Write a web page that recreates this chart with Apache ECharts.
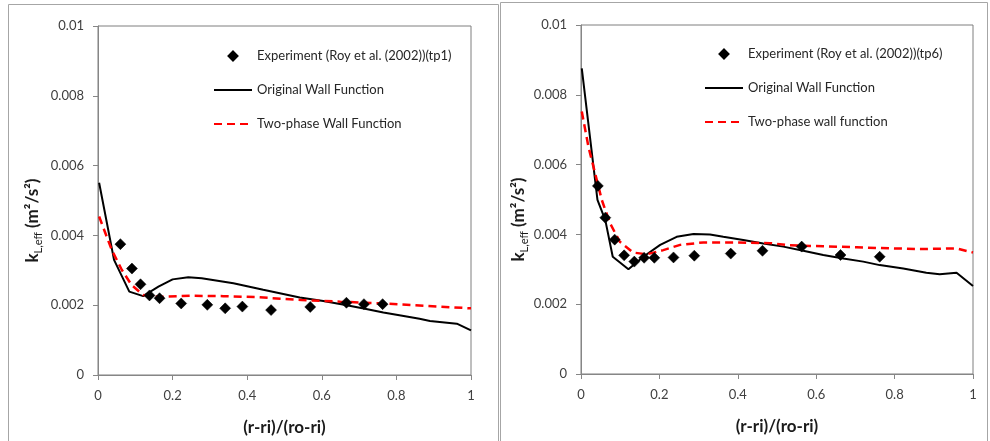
<!DOCTYPE html>
<html>
<head>
<meta charset="utf-8">
<script src="https://cdn.jsdelivr.net/npm/echarts@6/dist/echarts.min.js"></script>
<style>
html,body{margin:0;padding:0;background:#fff;}
#chart{width:990px;height:441px;}
</style>
</head>
<body>
<div id="chart"></div>
<script>
// ---------- Data ----------
const xTicks = [0, 0.2, 0.4, 0.6, 0.8, 1];
const yTicks = [0, 0.002, 0.004, 0.006, 0.008, 0.01];

// Left panel (tp1)
const leftExpX = [0.060, 0.091, 0.114, 0.138, 0.165, 0.223, 0.293, 0.341, 0.387, 0.464, 0.569, 0.666, 0.713, 0.763];
const leftExpY = [0.00375, 0.00305, 0.00260, 0.00228, 0.00220, 0.00205, 0.00201, 0.00191, 0.00196, 0.00186, 0.00195, 0.00207, 0.00203, 0.00203];
const leftOrigX = [0.003, 0.043, 0.084, 0.121, 0.162, 0.200, 0.242, 0.278, 0.363, 0.443, 0.541, 0.604, 0.667, 0.719, 0.765, 0.808, 0.862, 0.890, 0.962, 1.0];
const leftOrigY = [0.00551, 0.00330, 0.00239, 0.00226, 0.00253, 0.00274, 0.00280, 0.00277, 0.00263, 0.00244, 0.00222, 0.00212, 0.00200, 0.00189, 0.00179, 0.00171, 0.00161, 0.00155, 0.00147, 0.00128];
const leftTwoX = [0.003, 0.037, 0.064, 0.090, 0.121, 0.166, 0.247, 0.336, 0.425, 0.545, 0.650, 0.765, 0.880, 1.0];
const leftTwoY = [0.00454, 0.00358, 0.00301, 0.00258, 0.00229, 0.00224, 0.00227, 0.00226, 0.00223, 0.00215, 0.00210, 0.00205, 0.00198, 0.00191];

// Right panel (tp6)
const rightExpX = [0.043, 0.062, 0.086, 0.110, 0.136, 0.161, 0.187, 0.236, 0.289, 0.382, 0.463, 0.563, 0.662, 0.762];
const rightExpY = [0.00539, 0.00448, 0.00385, 0.00340, 0.00322, 0.00333, 0.00333, 0.00334, 0.00339, 0.00345, 0.00353, 0.00365, 0.00341, 0.00336];
const rightOrigX = [0.002, 0.042, 0.062, 0.081, 0.121, 0.159, 0.202, 0.244, 0.287, 0.329, 0.363, 0.414, 0.465, 0.516, 0.567, 0.618, 0.669, 0.720, 0.762, 0.822, 0.881, 0.915, 0.958, 1.0];
const rightOrigY = [0.00876, 0.00499, 0.00441, 0.00336, 0.00300, 0.00336, 0.00370, 0.00393, 0.00401, 0.00400, 0.00393, 0.00384, 0.00374, 0.00365, 0.00353, 0.00341, 0.00331, 0.00322, 0.00312, 0.00302, 0.00290, 0.00286, 0.00290, 0.00252];
const rightTwoX = [0.002, 0.019, 0.036, 0.053, 0.074, 0.099, 0.133, 0.168, 0.210, 0.253, 0.312, 0.397, 0.482, 0.533, 0.618, 0.703, 0.788, 0.873, 0.958, 1.0];
const rightTwoY = [0.00752, 0.00651, 0.00575, 0.00499, 0.00432, 0.00379, 0.00348, 0.00343, 0.00355, 0.00370, 0.00377, 0.00377, 0.00375, 0.00369, 0.00366, 0.00363, 0.00360, 0.00358, 0.00360, 0.00348];

const namesLeft = ['Experiment (Roy et al. (2002))(tp1)', 'Original Wall Function', 'Two-phase Wall Function'];
const namesRight = ['Experiment (Roy et al. (2002))(tp6)', 'Original Wall Function', 'Two-phase wall function'];
const xTitle = '(r-ri)/(ro-ri)';

// ---------- Build ----------
const zip = (xs, ys) => xs.map((x, i) => [x, ys[i]]);
const FONT = 'Lato, "Open Sans", sans-serif';
const DIAMOND_ICON = 'path://M19,0L23.5,4.5L19,9L14.5,4.5Z M0,0 M38,9';

function xAxisCfg(gi) {
  return {
    type: 'value', gridIndex: gi, min: 0, max: 1, interval: 0.2,
    axisLine: { show: true, lineStyle: { color: '#868686', width: 1 } },
    axisTick: { show: true, inside: false, length: 5, lineStyle: { color: '#868686' } },
    axisLabel: { margin: 14, fontSize: 13, color: '#404040', fontFamily: FONT,
      formatter: v => String(+v.toFixed(1)) },
    splitLine: { show: false },
    name: xTitle, nameLocation: 'middle', nameGap: 44,
    nameTextStyle: { fontSize: 17, fontWeight: 'bold', color: '#1a1a1a', fontFamily: FONT }
  };
}
function yAxisCfg(gi, gap) {
  return {
    type: 'value', gridIndex: gi, min: 0, max: 0.01, interval: 0.002,
    axisLine: { show: true, lineStyle: { color: '#868686', width: 1 } },
    axisTick: { show: true, inside: false, length: 5, lineStyle: { color: '#868686' } },
    axisLabel: { margin: 14, fontSize: 13, color: '#404040', fontFamily: FONT,
      formatter: v => v === 0 ? '0' : String(+v.toFixed(3)) },
    splitLine: { show: false },
    name: '{a|k}{b|L,eff}{a| (m²/s²)}', nameLocation: 'middle', nameGap: gap, nameRotate: 90,
    nameTextStyle: {
      color: '#1a1a1a', fontFamily: FONT, padding: [0, 40, 0, 0],
      rich: {
        a: { fontSize: 17, fontWeight: 'bold', lineHeight: 22, fontFamily: FONT, color: '#1a1a1a', verticalAlign: 'middle' },
        b: { fontSize: 11, fontWeight: 'normal', lineHeight: 10, fontFamily: FONT, color: '#1a1a1a', verticalAlign: 'bottom' }
      }
    }
  };
}
function legendCfg(left, top, names) {
  return {
    orient: 'vertical', left: left, top: top,
    itemWidth: 38, itemHeight: 9, itemGap: 20,
    textStyle: { fontSize: 13, color: '#262626', fontFamily: FONT, lineHeight: 14 },
    data: [
      { name: names[0], icon: DIAMOND_ICON },
      { name: names[1] },
      { name: names[2] }
    ],
    selectedMode: false
  };
}
function seriesSet(gi, names, ex, ey, ox, oy, tx, ty) {
  return [
    { name: names[0], type: 'scatter', xAxisIndex: gi, yAxisIndex: gi, data: zip(ex, ey),
      symbol: 'diamond', symbolSize: 11, itemStyle: { color: '#000000', borderColor: '#000000', borderWidth: 0.5, opacity: 1 }, z: 5 },
    { name: names[1], type: 'line', xAxisIndex: gi, yAxisIndex: gi, data: zip(ox, oy),
      symbol: 'none', smooth: false, lineStyle: { color: '#000000', width: 2 },
      itemStyle: { color: 'rgba(0,0,0,0)', borderWidth: 0 }, z: 3 },
    { name: names[2], type: 'line', xAxisIndex: gi, yAxisIndex: gi, data: zip(tx, ty),
      symbol: 'none', smooth: false, lineStyle: { color: '#ff0000', width: 2.5, type: [8, 5] },
      itemStyle: { color: 'rgba(0,0,0,0)', borderWidth: 0 }, z: 4 }
  ];
}

const option = {
  animation: false,
  backgroundColor: '#ffffff',
  graphic: [
    { type: 'rect', shape: { x: 8.5, y: 4.5, width: 490, height: 460 }, style: { fill: 'none', stroke: '#a6a6a6', lineWidth: 1 }, z: -1 },
    { type: 'rect', shape: { x: 500.5, y: 2.5, width: 487, height: 460 }, style: { fill: 'none', stroke: '#a6a6a6', lineWidth: 1 }, z: -1 }
  ],
  grid: [
    { left: 98, top: 26, width: 373, height: 349, show: true, borderColor: '#7f7f7f', borderWidth: 1, backgroundColor: 'transparent' },
    { left: 581, top: 25, width: 392, height: 349, show: true, borderColor: '#7f7f7f', borderWidth: 1, backgroundColor: 'transparent' }
  ],
  xAxis: [xAxisCfg(0), xAxisCfg(1)],
  yAxis: [yAxisCfg(0, 54), yAxisCfg(1, 50)],
  legend: [legendCfg(208, 44, namesLeft), legendCfg(699, 42, namesRight)],
  series: [].concat(
    seriesSet(0, namesLeft, leftExpX, leftExpY, leftOrigX, leftOrigY, leftTwoX, leftTwoY),
    seriesSet(1, namesRight, rightExpX, rightExpY, rightOrigX, rightOrigY, rightTwoX, rightTwoY)
  )
};

const chart = echarts.init(document.getElementById('chart'), null, { renderer: 'canvas' });
chart.setOption(option);
</script>
</body>
</html>
